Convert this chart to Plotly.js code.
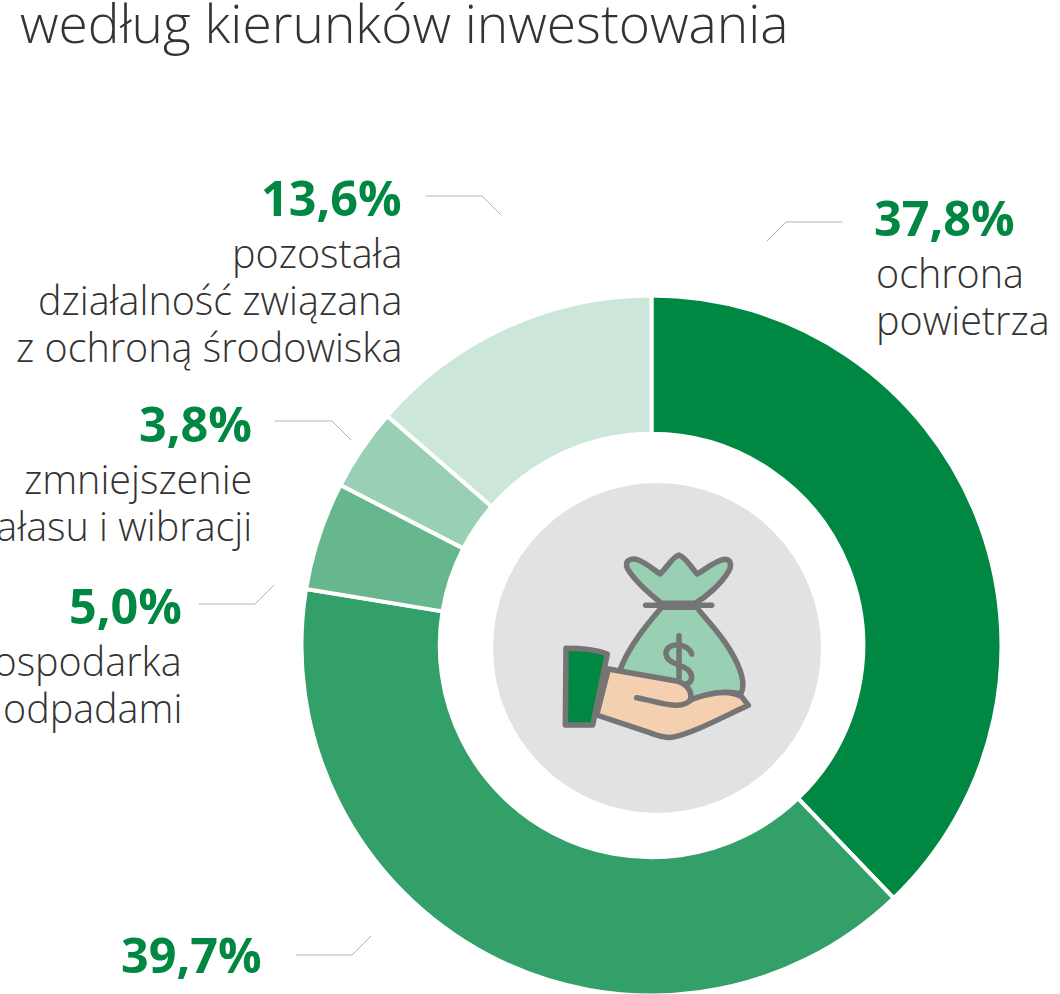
<!DOCTYPE html>
<html lang="pl">
<head>
<meta charset="utf-8">
<script src="https://cdn.plot.ly/plotly-3.0.1.min.js"></script>
<style>html,body{margin:0;padding:0;background:#fff;overflow:hidden;width:1060px;height:994px}#chart{width:1060px;height:994px;overflow:hidden}
.shapelayer path{stroke-linejoin:round;stroke-linecap:round}</style>
</head>
<body>
<div id="chart"></div>
<script>
const categories = ["ochrona powietrza", "gospodarka ściekowa i ochrona wód", "gospodarka odpadami", "zmniejszenie hałasu i wibracji", "pozostała działalność związana z ochroną środowiska"];
const values = [37.8, 39.7, 5.0, 3.8, 13.6];
const sliceColors = ["#008742", "#339f69", "#66b78e", "#99cfb3", "#cce7d9"];
const titleText = "według kierunków inwestowania";
const pctLabels = ["37,8%", "39,7%", "5,0%", "3,8%", "13,6%"];
const nameLines = [["ochrona", "powietrza"], [], ["gospodarka", "odpadami"], ["zmniejszenie", "hałasu i wibracji"], ["pozostała", "działalność związana", "z ochroną środowiska"]];

const W = 1060, H = 1000; // the picture is cut at 994, as the reference is
const FONT = "'Open Sans', sans-serif";
const GREY = "#757575";
const px = x => x / W, py = y => 1 - y / H;

// label placement: [anchor, x of pct, x of name, y of pct, y of first name line]
const labelPos = [["left", 872, 874, 217, 273], ["right", 264, 264, 954, 0], ["right", 184, 184, 605, 661], ["right", 254, 254, 423, 479], ["right", 404, 404, 197, 253]];
const leaders = [[[842,222],[786,222],[767,241]], [[296,955],[352,955],[371,936]], [[199,604],[255,604],[274,585]], [[275,421],[332,421],[351,440]], [[426,196],[482,196],[501,215]]];

function iconPath(d) {
  let i = 0;
  return d.replace(/-?\d+(\.\d+)?/g, n => {
    const v = parseFloat(n);
    const r = (i++ % 2 === 0) ? px(480 + v / 3) : py(470 + v / 3);
    return r.toFixed(5);
  });
}
function iconShape(d, fill, w) {
  return {type: "path", xref: "paper", yref: "paper", path: iconPath(d), fillcolor: fill || "rgba(0,0,0,0)", line: {color: GREY, width: w === undefined ? 5.5 : w}};
}

const annotations = [];
const shapes = [];
values.forEach((v, i) => {
  const [anchor, axP, axN, yPct, yName] = labelPos[i];
  annotations.push({xref: "paper", yref: "paper", x: px(axP), y: py(yPct), xanchor: anchor, yanchor: "middle", showarrow: false,
    text: "<b>" + pctLabels[i] + "</b>", font: {family: FONT, size: 48.5, color: "#008742"}});
  nameLines[i].forEach((t, k) => annotations.push({xref: "paper", yref: "paper", x: px(axN), y: py(yName + k * 47), xanchor: anchor, yanchor: "middle", showarrow: false,
    text: t, font: {family: FONT, size: 39.5, color: "#333333", weight: 300}}));
  const l = leaders[i];
  shapes.push({type: "path", xref: "paper", yref: "paper", path: "M" + l.map(p => px(p[0]).toFixed(5) + " " + py(p[1]).toFixed(5)).join(" L"), line: {color: "#b5b5b5", width: 1}});
});

// centre disc
shapes.push({type: "circle", xref: "paper", yref: "paper", x0: px(493), x1: px(821), y0: py(813), y1: py(483), fillcolor: "#e2e2e2", line: {width: 0}});
shapes.push({type: "line", xref: "paper", yref: "paper", x0: px(657), x1: px(657), y0: py(483), y1: py(813), line: {color: "#e6e6e6", width: 1}});
// money bag and hand
shapes.push(iconShape("M 645 400 C 680 380 725 340 745 305 C 755 290 755 268 735 268 C 710 270 680 295 652 312 C 635 295 618 262 597 255 C 575 262 560 295 540 312 C 520 298 500 280 475 270 C 455 262 432 270 442 295 C 460 325 500 365 545 400 Z", "#99cfb3"));
shapes.push(iconShape("M 545 412 C 500 465 445 530 420 600 L 640 690 C 680 670 740 660 782 672 C 800 640 780 590 750 540 C 720 490 680 450 650 412 Z", "#99cfb3"));
shapes.push(iconShape("M 497 406 L 695 406", null));
shapes.push(iconShape("M 635 552 C 625 518 558 515 558 550 C 558 590 635 580 635 622 C 635 640 620 645 600 642", null));
shapes.push(iconShape("M 597 497 L 597 640", null));
shapes.push(iconShape("M 385 597 L 585 632 C 620 640 640 665 630 690 C 680 672 740 655 785 680 L 805 706 C 730 740 640 790 575 802 C 550 805 530 795 500 785 L 350 735 Z", "#f5d0b0"));
shapes.push(iconShape("M 470 683 C 510 690 550 705 590 706 C 610 705 625 698 635 688", null));
shapes.push(iconShape("M 258 535 L 256 765 L 338 765 L 382 552 C 345 538 300 535 258 535 Z", "#008742"));

const data = [{
  type: "pie", labels: categories, values: values, sort: false, direction: "clockwise", rotation: 0,
  hole: 0.605, textinfo: "none", hoverinfo: "skip",
  marker: {colors: sliceColors, line: {color: "#ffffff", width: 4}},
  domain: {x: [px(301.5), px(1001.5)], y: [py(995.5), py(295.5)]},
  showlegend: false
}];

const layout = {
  width: W, height: H, margin: {l: 0, r: 0, t: 0, b: 0}, paper_bgcolor: "#fff", showlegend: false,
  title: {text: titleText, x: px(20), xanchor: "left", xref: "paper", y: py(24), yref: "paper", yanchor: "middle", font: {family: FONT, size: 53.3, color: "#333333", weight: 300}},
  shapes, annotations
};
Plotly.newPlot("chart", data, layout, {displayModeBar: false, staticPlot: true});
</script>
</body>
</html>
